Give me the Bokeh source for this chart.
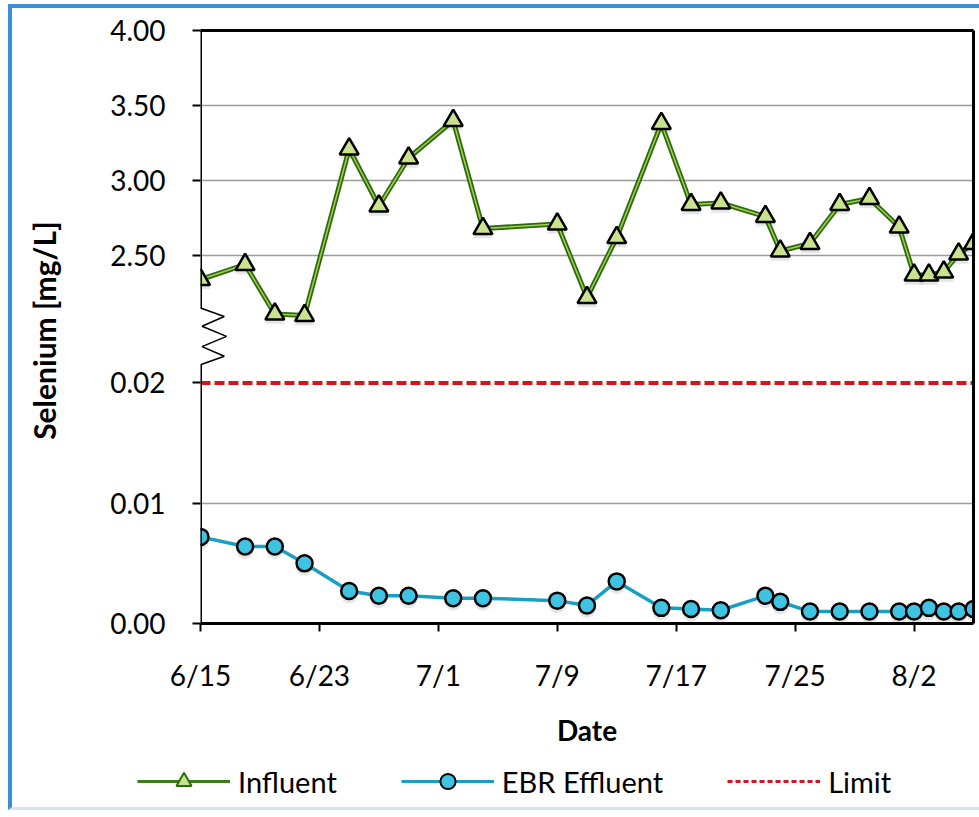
from datetime import datetime

from bokeh.plotting import figure
from bokeh.models import (Range1d, LinearAxis, DatetimeAxis, FixedTicker, NumeralTickFormatter,
                          Grid, Legend, LegendItem, Arrow, ColumnDataSource)
from bokeh.transform import dodge
from bokeh.embed import file_html
from bokeh.resources import INLINE

# ---------------- data ----------------
YEAR = 2014
dates = ["6/15", "6/18", "6/20", "6/22", "6/25", "6/27", "6/29", "7/2", "7/4",
         "7/9", "7/11", "7/13", "7/16", "7/18", "7/20", "7/23", "7/24", "7/26",
         "7/28", "7/30", "8/1", "8/2", "8/3", "8/4", "8/5", "8/6"]
influent = [2.34, 2.44, 2.11, 2.10, 3.21, 2.83, 3.15, 3.40, 2.68,
            2.71, 2.22, 2.62, 3.38, 2.84, 2.85, 2.76, 2.53, 2.58,
            2.84, 2.88, 2.69, 2.37, 2.37, 2.39, 2.51, 2.58]
effluent = [0.0072, 0.0064, 0.0064, 0.0050, 0.0027, 0.0023, 0.0023, 0.0021, 0.0021,
            0.0019, 0.0015, 0.0035, 0.0013, 0.0012, 0.0011, 0.0023, 0.0018, 0.0010,
            0.0010, 0.0010, 0.0010, 0.0010, 0.0013, 0.0010, 0.0010, 0.0012]
limit_value = 0.02
x_tick_labels = ["6/15", "6/23", "7/1", "7/9", "7/17", "7/25", "8/2"]
x_start_label, x_end_label = "6/15", "8/6"
upper_ticks = [2.5, 3.0, 3.5, 4.0]
lower_ticks = [0.0, 0.01, 0.02]
upper_break, upper_top = 2.15, 4.0       # upper segment of the broken axis
lower_bottom, lower_break = 0.0, 0.0215  # lower segment of the broken axis
series_names = ["Influent", "EBR Effluent", "Limit"]


def to_dt(s):
    m, d = s.split("/")
    return datetime(YEAR, int(m), int(d))


def to_ms(dt):
    return int((dt - datetime(1970, 1, 1)).total_seconds() * 1000)


# ---------------- styles ----------------
FONT = "Lato"
BLUE = "#3b8fd4"
INF_DARK, INF_LIGHT, INF_FILL = "#2c6a0e", "#a2cf4e", "#c8e28e"
EFF_LINE, EFF_FILL = "#1a9fc4", "#3fc3e2"
LIM_COLOR = "#d7141c"
SHADOW = "#9a9a9a"

# ---------------- layout constants ----------------
W = 971                          # host width incl. 4px left border
BL, BT, BB = 4, 4, 3
ML, MR, MT, MB = 188, 10, 22, 128
FRAME_H = 589
H_MAIN = BT + MT + FRAME_H + MB
H_LEG = 60 + BB
up_scale = 149.0                # px per mg/L on the upper segment
lo_scale = 11950.0              # px per mg/L on the lower segment
upper_px = (upper_top - upper_break) * up_scale
lower_px = (lower_break - lower_bottom) * lo_scale
gap_px = FRAME_H - upper_px - lower_px
SHADOW_PX = 4

y_upper = Range1d(upper_top - FRAME_H / up_scale, upper_top)
y_lower = Range1d(lower_bottom, lower_bottom + FRAME_H / lo_scale)

x0, x1 = to_dt(x_start_label), to_dt(x_end_label)
x_start_ms = to_ms(x0)

p = figure(width=W, height=H_MAIN, x_axis_type="datetime", x_axis_location=None, y_axis_location=None,
           x_range=Range1d(x0, x1), y_range=y_upper,
           output_backend="svg", toolbar_location=None,
           min_border_left=ML, min_border_right=MR, min_border_top=MT, min_border_bottom=MB,
           outline_line_color=None, background_fill_color="white", border_fill_color="white")
p.grid.visible = False
p.extra_y_ranges = {"low": y_lower}
p.styles = {"margin-left": "8px", "margin-top": "4px", "box-sizing": "border-box",
            "border-left": f"{BL}px solid {BLUE}", "border-top": f"{BT}px solid {BLUE}"}

# grids
p.add_layout(Grid(dimension=1, ticker=FixedTicker(ticks=[t for t in upper_ticks if t < upper_top]),
                  grid_line_color="#9a9a9a", grid_line_width=1.5))
p.add_layout(Grid(dimension=1, y_range_name="low", ticker=FixedTicker(ticks=[0.01]),
                  grid_line_color="#9a9a9a", grid_line_width=1.5))


def style_axis(ax, size="28px"):
    ax.axis_line_color = "black"
    ax.axis_line_width = 3
    ax.major_tick_line_color = "black"
    ax.major_tick_line_width = 2
    ax.major_tick_out = 8
    ax.major_tick_in = 0
    ax.minor_tick_out = 0
    ax.minor_tick_in = 0
    ax.major_label_text_font = FONT
    ax.major_label_text_font_size = size
    ax.major_label_text_color = "black"


# left tick/label axis: upper ticks directly, lower ticks placed through the lower scale
lo_in_up = [round(y_upper.start + (t - y_lower.start) * lo_scale / up_scale, 9) for t in lower_ticks]
ax_left = LinearAxis(ticker=FixedTicker(ticks=lo_in_up + upper_ticks),
                     formatter=NumeralTickFormatter(format="0.00"),
                     major_label_overrides={v: f"{t:.2f}" for v, t in zip(lo_in_up, lower_ticks)})
style_axis(ax_left)
ax_left.axis_line_color = None
ax_left.major_label_standoff = 27
ax_left.axis_label = "Selenium  [mg/L]"
ax_left.axis_label_text_font = FONT
ax_left.axis_label_text_font_style = "bold"
ax_left.axis_label_text_font_size = "30px"
ax_left.axis_label_text_color = "black"
ax_left.axis_label_standoff = 45
p.add_layout(ax_left, "left")

# axis line segments (broken)
for kw in (dict(bounds=(upper_break, upper_top)),
           dict(y_range_name="low", bounds=(lower_bottom, lower_break))):
    seg = LinearAxis(ticker=FixedTicker(ticks=[]), fixed_location=x_start_ms,
                     axis_line_color="black", axis_line_width=3,
                     major_tick_out=0, major_tick_in=0, minor_tick_out=0, minor_tick_in=0,
                     major_label_standoff=0, **kw)
    p.add_layout(seg, "left")

# frame top / right borders
for side in ("above", "right"):
    b = LinearAxis(ticker=FixedTicker(ticks=[]), axis_line_color="black", axis_line_width=3,
                   major_tick_out=0, major_tick_in=0, minor_tick_out=0, minor_tick_in=0,
                   major_label_standoff=0)
    p.add_layout(b, side)

# x axis
tick_ms = [to_ms(to_dt(s)) for s in x_tick_labels]
xa = DatetimeAxis(ticker=FixedTicker(ticks=tick_ms),
                  major_label_overrides={t: s for t, s in zip(tick_ms, x_tick_labels)})
style_axis(xa, "28px")
xa.major_label_standoff = 26
xa.axis_label = "Date"
xa.axis_label_text_font = FONT
xa.axis_label_text_font_style = "bold"
xa.axis_label_text_font_size = "28px"
xa.axis_label_text_color = "black"
xa.axis_label_standoff = 18
p.add_layout(xa, "below")

# zigzag (axis break marker)
zig_days = [0.0, 1.6, 0.1, 1.75, 0.1, 1.6, 0.0]
zig_frac = [0.0, 0.15, 0.32, 0.5, 0.68, 0.85, 1.0]
zx = [x_start_ms + d * 86400000 for d in zig_days]
zy = [upper_break - f * gap_px / up_scale for f in zig_frac]
for i in range(len(zx) - 1):
    p.add_layout(Arrow(end=None, x_start=zx[i], y_start=zy[i], x_end=zx[i + 1], y_end=zy[i + 1],
                       line_color="black", line_width=1.5))

# data
xd = [to_dt(s) for s in dates]
src = ColumnDataSource(dict(x=xd, inf=influent, eff=effluent))

p.line(x=[x0, x1], y=[limit_value, limit_value], y_range_name="low",
       line_color=LIM_COLOR, line_width=4, line_dash="10 4")

# soft marker shadows
p.scatter("x", dodge("eff", -SHADOW_PX / lo_scale), source=src, y_range_name="low", marker="circle",
          size=17, fill_color=SHADOW, fill_alpha=0.25, line_color=None)
p.scatter("x", dodge("inf", -SHADOW_PX / up_scale), source=src, marker="triangle",
          size=20, fill_color=SHADOW, fill_alpha=0.25, line_color=None)

p.line("x", "eff", source=src, y_range_name="low", line_color=EFF_LINE, line_width=3.5)
p.scatter("x", "eff", source=src, y_range_name="low", marker="circle", size=16,
          fill_color=EFF_FILL, line_color="black", line_width=2.5)

p.line("x", "inf", source=src, line_color=INF_DARK, line_width=5)
p.line("x", "inf", source=src, line_color=INF_LIGHT, line_width=1.5)
p.scatter("x", "inf", source=src, marker="triangle", size=19,
          fill_color=INF_FILL, line_color="black", line_width=2.5)

# ---------------- legend strip (separate canvas under the chart) ----------------
lf = figure(width=W, height=H_LEG, x_range=Range1d(0, 1), y_range=Range1d(0, 1),
            output_backend="svg", toolbar_location=None,
            min_border_left=0, min_border_right=0, min_border_top=0, min_border_bottom=0,
            x_axis_location=None, y_axis_location=None,
            outline_line_color=None, background_fill_color="white", border_fill_color="white")
lf.grid.visible = False
lf.styles = {"margin-left": "8px", "box-sizing": "border-box",
             "border-left": f"{BL}px solid {BLUE}", "border-bottom": f"{BB}px solid #d3e4f4"}
# the series data lie far outside this strip's ranges, so only the legend swatches show
l_inf = lf.line("x", "inf", source=src, line_color="#3a7d14", line_width=3)
m_inf = lf.scatter("x", "inf", source=src, marker="triangle", size=14,
                   fill_color=INF_FILL, line_color="#2c6a0e", line_width=2)
l_eff = lf.line("x", "eff", source=src, line_color=EFF_LINE, line_width=3)
m_eff = lf.scatter("x", "eff", source=src, marker="circle", size=14,
                   fill_color=EFF_FILL, line_color="black", line_width=2)
l_lim = lf.line("x", "eff", source=src, line_color=LIM_COLOR, line_width=3, line_dash="5 3")

legend = Legend(items=[LegendItem(label=series_names[0], renderers=[l_inf, m_inf]),
                       LegendItem(label=series_names[1], renderers=[l_eff, m_eff]),
                       LegendItem(label=series_names[2], renderers=[l_lim])],
                orientation="horizontal", location=(125, 10),
                glyph_width=93, glyph_height=38, label_standoff=8, spacing=64,
                padding=0, margin=0, border_line_color=None, background_fill_alpha=0,
                label_text_font=FONT, label_text_font_size="29px", label_text_color="black")
lf.add_layout(legend, "center")

open("out.html", "w").write(file_html([p, lf], INLINE))
